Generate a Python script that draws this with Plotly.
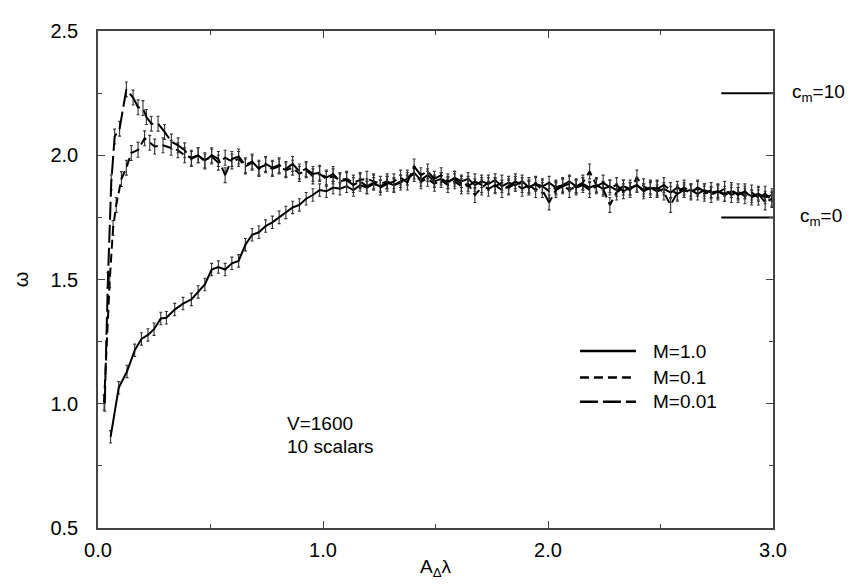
import plotly.graph_objects as go

# common A_delta*lambda grid once the curves have settled
x_grid = [
    0.415, 0.445, 0.475, 0.505, 0.535, 0.565, 0.595, 0.625, 0.655, 0.685,
    0.715, 0.745, 0.775, 0.805, 0.835, 0.865, 0.895, 0.925, 0.955, 0.985,
    1.015, 1.045, 1.075, 1.105, 1.135, 1.165, 1.195, 1.225, 1.255, 1.285,
    1.315, 1.345, 1.375, 1.405, 1.435, 1.465, 1.495, 1.525, 1.555, 1.585,
    1.615, 1.645, 1.675, 1.705, 1.735, 1.765, 1.795, 1.825, 1.855, 1.885,
    1.915, 1.945, 1.975, 2.005, 2.035, 2.065, 2.095, 2.125, 2.155, 2.185,
    2.215, 2.245, 2.275, 2.305, 2.335, 2.365, 2.395, 2.425, 2.455, 2.485,
    2.515, 2.545, 2.575, 2.605, 2.635, 2.665, 2.695, 2.725, 2.755, 2.785,
    2.815, 2.845, 2.875, 2.905, 2.935, 2.965, 2.995,
]

# M=1.0 (solid)
x_m1_early = [0.056, 0.092, 0.129, 0.163, 0.193, 0.222, 0.249, 0.279, 0.304, 0.341, 0.378]
y_m1_early = [0.867, 1.064, 1.13, 1.215, 1.261, 1.277, 1.30, 1.343, 1.346, 1.379, 1.403]
y_m1_grid = [
    1.42, 1.45, 1.48, 1.54, 1.55, 1.54, 1.565, 1.575, 1.64, 1.68,
    1.69, 1.715, 1.73, 1.75, 1.77, 1.79, 1.80, 1.825, 1.84, 1.86,
    1.855, 1.87, 1.865, 1.875, 1.86, 1.88, 1.87, 1.885, 1.875, 1.89,
    1.88, 1.895, 1.905, 1.93, 1.90, 1.92, 1.895, 1.905, 1.89, 1.91,
    1.895, 1.905, 1.88, 1.895, 1.885, 1.90, 1.875, 1.89, 1.88, 1.895,
    1.87, 1.885, 1.875, 1.89, 1.87, 1.88, 1.895, 1.875, 1.885, 1.87,
    1.88, 1.865, 1.875, 1.86, 1.875, 1.865, 1.88, 1.86, 1.87, 1.855,
    1.865, 1.85, 1.87, 1.855, 1.86, 1.845, 1.86, 1.85, 1.855, 1.84,
    1.855, 1.845, 1.85, 1.835, 1.845, 1.83, 1.84,
]
err_m1 = 0.025

# M=0.1 (short dash)
x_m01_early = [0.027, 0.052, 0.067, 0.081, 0.104, 0.126, 0.148, 0.178, 0.207, 0.23,
               0.252, 0.289, 0.325, 0.355, 0.385]
y_m01_early = [1.005, 1.497, 1.707, 1.80, 1.904, 1.95, 2.009, 2.022, 2.068, 2.05,
               2.035, 2.04, 2.03, 2.02, 2.0]
y_m01_grid = [
    1.99, 2.00, 1.98, 1.995, 1.97, 1.99, 1.975, 1.985, 1.955, 1.97,
    1.95, 1.96, 1.945, 1.955, 1.94, 1.95, 1.925, 1.94, 1.915, 1.925,
    1.905, 1.915, 1.90, 1.905, 1.89, 1.90, 1.905, 1.895, 1.885, 1.895,
    1.88, 1.89, 1.91, 1.925, 1.895, 1.905, 1.885, 1.90, 1.88, 1.895,
    1.875, 1.885, 1.84, 1.87, 1.89, 1.875, 1.89, 1.87, 1.885, 1.865,
    1.88, 1.86, 1.875, 1.855, 1.87, 1.88, 1.86, 1.875, 1.89, 1.935,
    1.88, 1.865, 1.80, 1.85, 1.87, 1.86, 1.91, 1.875, 1.86, 1.87,
    1.85, 1.80, 1.85, 1.87, 1.855, 1.865, 1.845, 1.86, 1.85, 1.865,
    1.84, 1.855, 1.835, 1.85, 1.83, 1.845, 1.82,
]
err_m01 = 0.03

# M=0.01 (long dash)
x_m001_early = [0.03, 0.044, 0.059, 0.074, 0.096, 0.126, 0.156, 0.178, 0.2, 0.215,
                0.237, 0.267, 0.296, 0.326, 0.356, 0.385]
y_m001_early = [1.0, 1.497, 1.891, 2.075, 2.107, 2.265, 2.232, 2.193, 2.19, 2.154,
                2.127, 2.127, 2.094, 2.055, 2.04, 2.02]
y_m001_grid = [
    1.985, 2.0, 1.975, 2.0, 1.985, 1.92, 1.985, 1.995, 1.96, 1.975,
    1.945, 1.965, 1.95, 1.96, 1.945, 1.965, 1.935, 1.945, 1.925, 1.93,
    1.91, 1.925, 1.895, 1.90, 1.88, 1.895, 1.875, 1.89, 1.87, 1.885,
    1.895, 1.91, 1.89, 1.955, 1.92, 1.935, 1.905, 1.92, 1.895, 1.905,
    1.885, 1.875, 1.895, 1.88, 1.865, 1.88, 1.86, 1.875, 1.895, 1.88,
    1.87, 1.885, 1.86, 1.81, 1.86, 1.875, 1.885, 1.87, 1.88, 1.86,
    1.875, 1.89, 1.87, 1.88, 1.855, 1.87, 1.88, 1.855, 1.87, 1.865,
    1.88, 1.86, 1.845, 1.86, 1.85, 1.87, 1.855, 1.84, 1.855, 1.845,
    1.86, 1.84, 1.855, 1.83, 1.845, 1.81, 1.825,
]
err_m001 = 0.03

# reference levels on the right edge
cm_levels = [2.25, 1.75]
cm_labels = ["c<sub>m</sub>=10", "c<sub>m</sub>=0"]
cm_x = [2.77, 3.0]

series = [
    ("M=1.0", x_m1_early + x_grid, y_m1_early + y_m1_grid, err_m1, "solid"),
    ("M=0.1", x_m01_early + x_grid, y_m01_early + y_m01_grid, err_m01, "9px,5px"),
    ("M=0.01", x_m001_early + x_grid, y_m001_early + y_m001_grid, err_m001, "18px,5px"),
]

font = "Liberation Sans, Arial, sans-serif"
fig = go.Figure()

for name, xs, ys, err, dash in series:
    fig.add_trace(go.Scatter(
        x=xs, y=ys, mode="lines", name=name,
        line=dict(color="black", width=2, dash=dash),
        error_y=dict(type="constant", value=err, color="#333", thickness=1.1, width=1.5),
        showlegend=False,
    ))

for lvl in cm_levels:
    fig.add_trace(go.Scatter(x=cm_x, y=[lvl, lvl], mode="lines",
                             line=dict(color="black", width=2), showlegend=False))

# hand-drawn legend, like the original
leg_y = [0.356, 0.303, 0.254]
for (name, _, _, _, dash), ly in zip(series, leg_y):
    fig.add_shape(type="line", xref="paper", yref="paper", x0=0.714, x1=0.797, y0=ly, y1=ly,
                  line=dict(color="black", width=2.5, dash=dash))
    fig.add_annotation(text=name, xref="paper", yref="paper", x=0.819, y=ly,
                       xanchor="left", yanchor="middle", showarrow=False,
                       font=dict(size=19, color="black", family=font))

for lvl, lab, xs in zip(cm_levels, cm_labels, [17, 25]):
    fig.add_annotation(text=lab, x=3.0, y=lvl, xanchor="left", yanchor="middle",
                       xshift=xs, showarrow=False,
                       font=dict(size=19, color="black", family=font))

for txt, ty in zip(["V=1600", "10 scalars"], [0.21, 0.163]):
    fig.add_annotation(text=txt, xref="paper", yref="paper", x=0.277, y=ty,
                       xanchor="left", yanchor="middle", showarrow=False,
                       font=dict(size=19, color="black", family=font))

axis_common = dict(
    showline=True, linecolor="#444", linewidth=1.5, mirror="ticks",
    ticks="inside", ticklen=7, tickcolor="#444", tickwidth=1.2,
    showgrid=False, zeroline=False, tickformat=".1f",
    tickfont=dict(size=20, color="black", family=font),
)

fig.update_xaxes(range=[0, 3], tick0=0, dtick=1, ticklabelstandoff=3,
                 minor=dict(dtick=0.5, ticks="inside", ticklen=4, tickcolor="#444"),
                 title=dict(text="A<sub>Δ</sub>λ", font=dict(size=19, color="black", family=font),
                            standoff=0),
                 **axis_common)
fig.update_yaxes(range=[0.5, 2.5], tick0=0.5, dtick=0.5, ticklabelstandoff=14,
                 minor=dict(dtick=0.25, ticks="inside", ticklen=4, tickcolor="#444"),
                 title=dict(text="ω", font=dict(size=20, color="black", family=font),
                            standoff=16),
                 **axis_common)

fig.update_layout(
    width=853, height=588,
    margin=dict(l=90, r=88, t=12, b=68),
    plot_bgcolor="white", paper_bgcolor="white",
    font=dict(family=font, color="black"),
)

fig.write_html("out.html")
